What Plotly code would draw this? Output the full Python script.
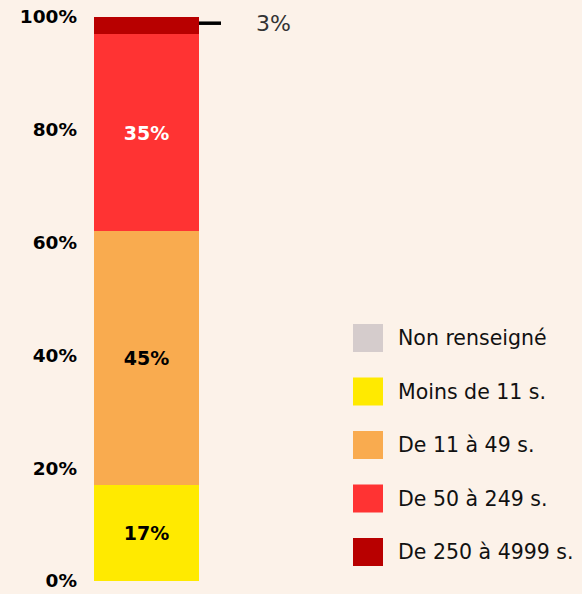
import plotly.graph_objects as go

categories = ["Non renseigné", "Moins de 11 s.", "De 11 à 49 s.", "De 50 à 249 s.", "De 250 à 4999 s."]
values = [0, 17, 45, 35, 3]
labels = ["", "17%", "45%", "35%", ""]
colors = ["#d5cccc", "#ffea00", "#f9ab4f", "#ff3333", "#b80000"]
text_colors = ["#000000", "#000000", "#000000", "#ffffff", "#000000"]
tick_vals = [0, 20, 40, 60, 80, 100]
tick_text = ["0%", "20%", "40%", "60%", "80%", "100%"]
callout_text = "3%"

W, H = 582, 594
L, R, T, B = 94, 199, 17, 581
FONT = "DejaVu Sans"
BG = "#fcf2e9"

def px_x(px):
    return (px - L) / (R - L)

def px_y(py):
    return (B - py) / (B - T)

fig = go.Figure()
for cat, v, lab, col, tc in zip(categories, values, labels, colors, text_colors):
    fig.add_trace(go.Bar(
        x=["total"], y=[v], name=cat, marker=dict(color=col, line=dict(width=0)),
        text=[lab], textposition="inside", insidetextanchor="middle",
        textfont=dict(family=FONT, size=19, color=tc, weight="bold"),
        textangle=0, showlegend=False, hoverinfo="name+y",
    ))

# callout for the smallest segment
top_mid = sum(values) - values[-1] / 2
fig.add_shape(type="line", xref="paper", yref="y", x0=1, x1=px_x(221), y0=top_mid + 0.4, y1=top_mid + 0.4,
              line=dict(color="#000000", width=3.5))
fig.add_annotation(xref="paper", yref="y", x=px_x(254), y=top_mid + 0.4, text=callout_text, showarrow=False,
                   xanchor="left", yanchor="middle", font=dict(family=FONT, size=22, color="#333333"))

# custom legend
for i, (cat, col) in enumerate(zip(categories, colors)):
    top = 324 + i * 53.5
    fig.add_shape(type="rect", xref="paper", yref="paper", x0=px_x(353), x1=px_x(383),
                  y0=px_y(top + 28), y1=px_y(top), fillcolor=col, line=dict(width=0))
    fig.add_annotation(xref="paper", yref="paper", x=px_x(396), y=px_y(top + 14), text=cat,
                       showarrow=False, xanchor="left", yanchor="middle",
                       font=dict(family=FONT, size=20.5, color="#111111"))

fig.update_layout(
    width=W, height=H, barmode="stack", bargap=0,
    paper_bgcolor=BG, plot_bgcolor=BG,
    margin=dict(l=L, r=W - R, t=T, b=H - B, autoexpand=False),
    xaxis=dict(visible=False, range=[-0.5, 0.5]),
    yaxis=dict(range=[0, 100], tickvals=tick_vals, ticktext=tick_text, showgrid=False, zeroline=False,
               showline=False, ticks="", ticklabelstandoff=16,
               tickfont=dict(family=FONT, size=18.5, color="#000000", weight="bold")),
    font=dict(family=FONT),
)

fig.write_html("out.html", config={"displayModeBar": False},
               post_script="document.body.style.margin='0';document.body.style.background='%s';" % BG)
